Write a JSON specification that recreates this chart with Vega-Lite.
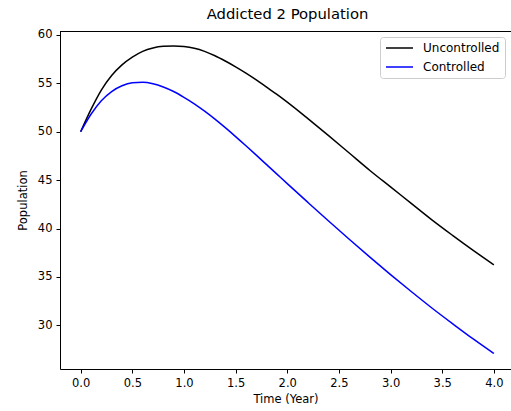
{
  "$schema": "https://vega.github.io/schema/vega-lite/v6.json",
  "autosize": {"type": "none"},
  "padding": {"left": 60, "top": 31, "right": 0, "bottom": 42},
  "width": 451,
  "height": 338,
  "title": {"text": "Addicted 2 Population", "fontSize": 14.8, "font": "DejaVu Sans", "fontWeight": "normal", "color": "#000000", "offset": 7, "dx": 2},
  "config": {
    "font": "DejaVu Sans",
    "view": {"stroke": null},
    "axis": {
      "grid": false,
      "domainColor": "#000000",
      "domainWidth": 1,
      "tickColor": "#000000",
      "tickSize": 4,
      "labelColor": "#000000",
      "labelFontSize": 11.5,
      "labelFont": "DejaVu Sans",
      "titleFont": "DejaVu Sans",
      "titleFontSize": 11.5,
      "titleFontWeight": "normal",
      "titleColor": "#000000",
      "labelPadding": 4
    }
  },
  "data": {"values": [
    {"t": 0.0, "v": 50.0, "series": "Uncontrolled"},
    {"t": 0.1, "v": 52.3, "series": "Uncontrolled"},
    {"t": 0.2, "v": 54.3, "series": "Uncontrolled"},
    {"t": 0.3, "v": 55.8, "series": "Uncontrolled"},
    {"t": 0.4, "v": 56.9, "series": "Uncontrolled"},
    {"t": 0.5, "v": 57.7, "series": "Uncontrolled"},
    {"t": 0.6, "v": 58.3, "series": "Uncontrolled"},
    {"t": 0.7, "v": 58.65, "series": "Uncontrolled"},
    {"t": 0.8, "v": 58.82, "series": "Uncontrolled"},
    {"t": 0.9, "v": 58.86, "series": "Uncontrolled"},
    {"t": 1.0, "v": 58.8, "series": "Uncontrolled"},
    {"t": 1.1, "v": 58.62, "series": "Uncontrolled"},
    {"t": 1.2, "v": 58.3, "series": "Uncontrolled"},
    {"t": 1.3, "v": 57.85, "series": "Uncontrolled"},
    {"t": 1.4, "v": 57.3, "series": "Uncontrolled"},
    {"t": 1.5, "v": 56.7, "series": "Uncontrolled"},
    {"t": 1.6, "v": 56.05, "series": "Uncontrolled"},
    {"t": 1.7, "v": 55.35, "series": "Uncontrolled"},
    {"t": 1.8, "v": 54.6, "series": "Uncontrolled"},
    {"t": 1.9, "v": 53.85, "series": "Uncontrolled"},
    {"t": 2.0, "v": 53.05, "series": "Uncontrolled"},
    {"t": 2.2, "v": 51.35, "series": "Uncontrolled"},
    {"t": 2.4, "v": 49.6, "series": "Uncontrolled"},
    {"t": 2.6, "v": 47.8, "series": "Uncontrolled"},
    {"t": 2.8, "v": 46.0, "series": "Uncontrolled"},
    {"t": 3.0, "v": 44.3, "series": "Uncontrolled"},
    {"t": 3.2, "v": 42.6, "series": "Uncontrolled"},
    {"t": 3.4, "v": 40.9, "series": "Uncontrolled"},
    {"t": 3.6, "v": 39.3, "series": "Uncontrolled"},
    {"t": 3.8, "v": 37.75, "series": "Uncontrolled"},
    {"t": 4.0, "v": 36.26, "series": "Uncontrolled"},
    {"t": 0.0, "v": 50.0, "series": "Controlled"},
    {"t": 0.1, "v": 51.8, "series": "Controlled"},
    {"t": 0.2, "v": 53.2, "series": "Controlled"},
    {"t": 0.3, "v": 54.15, "series": "Controlled"},
    {"t": 0.4, "v": 54.75, "series": "Controlled"},
    {"t": 0.5, "v": 55.05, "series": "Controlled"},
    {"t": 0.6, "v": 55.1, "series": "Controlled"},
    {"t": 0.7, "v": 54.95, "series": "Controlled"},
    {"t": 0.8, "v": 54.62, "series": "Controlled"},
    {"t": 0.9, "v": 54.15, "series": "Controlled"},
    {"t": 1.0, "v": 53.55, "series": "Controlled"},
    {"t": 1.1, "v": 52.88, "series": "Controlled"},
    {"t": 1.2, "v": 52.12, "series": "Controlled"},
    {"t": 1.3, "v": 51.3, "series": "Controlled"},
    {"t": 1.4, "v": 50.42, "series": "Controlled"},
    {"t": 1.5, "v": 49.5, "series": "Controlled"},
    {"t": 1.6, "v": 48.55, "series": "Controlled"},
    {"t": 1.7, "v": 47.58, "series": "Controlled"},
    {"t": 1.8, "v": 46.6, "series": "Controlled"},
    {"t": 1.9, "v": 45.62, "series": "Controlled"},
    {"t": 2.0, "v": 44.64, "series": "Controlled"},
    {"t": 2.2, "v": 42.7, "series": "Controlled"},
    {"t": 2.4, "v": 40.78, "series": "Controlled"},
    {"t": 2.6, "v": 38.9, "series": "Controlled"},
    {"t": 2.8, "v": 37.05, "series": "Controlled"},
    {"t": 3.0, "v": 35.25, "series": "Controlled"},
    {"t": 3.2, "v": 33.5, "series": "Controlled"},
    {"t": 3.4, "v": 31.8, "series": "Controlled"},
    {"t": 3.6, "v": 30.18, "series": "Controlled"},
    {"t": 3.8, "v": 28.6, "series": "Controlled"},
    {"t": 4.0, "v": 27.1, "series": "Controlled"}
  ]},
  "layer": [
    {
      "mark": {"type": "line", "strokeWidth": 1.5, "interpolate": "monotone"},
      "encoding": {
        "x": {"field": "t", "type": "quantitative", "scale": {"domain": [-0.2, 4.166], "nice": false, "zero": false},
              "axis": {"title": "Time (Year)", "values": [0, 0.5, 1, 1.5, 2, 2.5, 3, 3.5, 4], "format": ".1f", "titlePadding": 5}},
        "y": {"field": "v", "type": "quantitative", "scale": {"domain": [25.5, 60.4], "nice": false, "zero": false},
              "axis": {"title": "Population", "values": [30, 35, 40, 45, 50, 55, 60], "titlePadding": 9}},
        "color": {"field": "series", "type": "nominal",
                  "scale": {"domain": ["Uncontrolled", "Controlled"], "range": ["#000000", "#0000ff"]},
                  "legend": {"title": null, "orient": "none", "legendX": 320, "legendY": 6,
                             "symbolType": "M-1,0H4.4", "symbolSize": 100, "symbolStrokeWidth": 1.5, "symbolFillColor": "transparent",
                             "labelFontSize": 12, "labelColor": "#000000", "labelOffset": 26,
                             "padding": 5, "fillColor": "#ffffff", "strokeColor": "#cccccc", "cornerRadius": 3, "rowPadding": 7}},
        "detail": {"field": "series"}
      }
    },
    {
      "mark": {"type": "rule", "color": "#000000", "strokeWidth": 1, "yOffset": 0.5},
      "encoding": {"y": {"datum": 60.4}}
    }
  ]
}
